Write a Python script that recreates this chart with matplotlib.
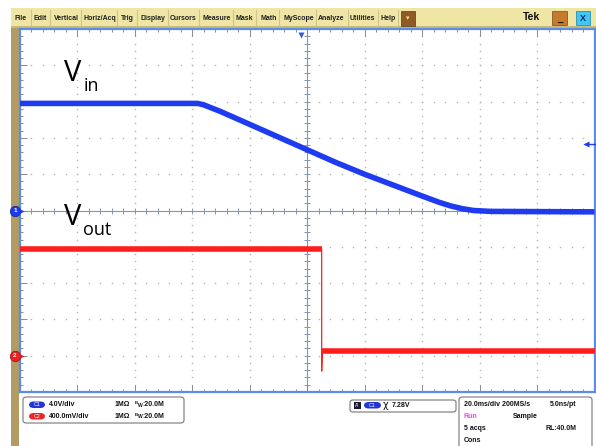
import matplotlib
matplotlib.use('Agg')
import matplotlib.pyplot as plt
from matplotlib.patches import Rectangle, FancyBboxPatch
from matplotlib.ticker import MultipleLocator
from matplotlib.transforms import blended_transform_factory

# ---------------- data ----------------
time_per_div_ms = 20.0
ch1_volts_per_div = 4.0
ch2_volts_per_div = 0.4
ch1_offset_div = 0
ch2_offset_div = -4
trigger_level_v = 7.28
trigger_pos_ms = -2.0

vin_time_ms = [-100, -38, -36, -30, -20, -10, 0, 10, 20, 30, 40, 46, 50, 54, 58, 64, 100]
vin_volts = [11.8, 11.8, 11.65, 10.9, 9.5, 8.1, 6.7, 5.3, 4.0, 2.8, 1.6, 0.9, 0.5, 0.2, 0.0, -0.1, -0.15]

vout_time_ms = [-100, 5.1, 5.1, 5.3, 100]
vout_volts = [1.18, 1.18, -0.17, 0.05, 0.05]

menu_items = ["File", "Edit", "Vertical", "Horiz/Acq", "Trig", "Display", "Cursors",
              "Measure", "Mask", "Math", "MyScope", "Analyze", "Utilities", "Help"]
menu_centers_px = [21, 40.5, 66, 100, 127.5, 153, 183.5, 216.5, 244, 269, 298.5, 331.5, 362, 388]
menu_seps_px = [31, 50, 81, 117, 137, 168, 199, 233, 256, 279, 316, 348, 378, 398]

# ---------------- figure ----------------
W, H = 596, 446
fig = plt.figure(figsize=(W / 100, H / 100), dpi=100)
fig.patch.set_facecolor('white')
plt.rcParams['font.family'] = ['Liberation Sans', 'DejaVu Sans']

def fx(x):
    return x / W

def fy(y):
    return 1 - y / H

def rect_px(x0, y0, x1, y1, **kw):
    r = Rectangle((fx(x0), fy(y1)), (x1 - x0) / W, (y1 - y0) / H,
                  transform=fig.transFigure, **kw)
    fig.add_artist(r)
    return r

def rbox_px(x0, y0, x1, y1, pad=0.004, **kw):
    r = FancyBboxPatch((fx(x0), fy(y1)), (x1 - x0) / W, (y1 - y0) / H,
                       boxstyle="round,pad=0,rounding_size=%f" % pad,
                       transform=fig.transFigure, **kw)
    fig.add_artist(r)
    return r

# menu bar
rect_px(11, 8, 596, 27.5, facecolor='#EFE6A6', edgecolor='none', zorder=-2)
rect_px(11, 26.5, 596, 28.5, facecolor='#C9B97A', edgecolor='none', zorder=-2)
for sx in menu_seps_px:
    fig.add_artist(plt.Line2D([fx(sx), fx(sx)], [fy(10), fy(25)], color='#CFC48A',
                              lw=0.8, transform=fig.transFigure, zorder=2))
for name, cx in zip(menu_items, menu_centers_px):
    fig.text(fx(cx), fy(18), name, ha='center', va='center', fontsize=5.0,
             color='#202020', fontweight='bold', zorder=3)
# dropdown button
rect_px(401, 11, 415, 26, facecolor='#8E5A26', edgecolor='#5a3a18', lw=0.5, zorder=3)
fig.text(fx(408), fy(18.5), u"\u25BE", ha='center', va='center', fontsize=5,
         color='#F6E27A', zorder=4, family='DejaVu Sans')
fig.text(fx(531.5), fy(17.5), "Tek", ha='center', va='center', fontsize=7.5,
         color='#111111', fontweight='bold', zorder=3)
rect_px(552, 11, 567, 25, facecolor='#C57A2C', edgecolor='#7a4a18', lw=0.5, zorder=3)
fig.text(fx(559.5), fy(19.5), "_", ha='center', va='center', fontsize=7,
         color='#111111', fontweight='bold', zorder=4)
rect_px(576, 11, 590, 25, facecolor='#3CC8F2', edgecolor='#1a7fa8', lw=0.5, zorder=3)
fig.text(fx(583), fy(18.5), "X", ha='center', va='center', fontsize=6.5,
         color='#0b2a78', fontweight='bold', zorder=4)

# left brown strip (behind the axes so channel markers show on top)
rect_px(11, 28, 19, 446, facecolor='#B29C62', edgecolor='none', zorder=-2)

# ---------------- graticule / scope axes ----------------
ax1 = fig.add_axes([fx(19.5), fy(392), 575 / W, 363 / H])
ax1.set_facecolor('white')
ax1.set_xlim(-5 * time_per_div_ms, 5 * time_per_div_ms)
ax1.set_ylim((-5 - ch1_offset_div) * ch1_volts_per_div, (5 - ch1_offset_div) * ch1_volts_per_div)

ax1.xaxis.set_major_locator(MultipleLocator(time_per_div_ms))
ax1.xaxis.set_minor_locator(MultipleLocator(time_per_div_ms / 5))
ax1.yaxis.set_major_locator(MultipleLocator(ch1_volts_per_div))
ax1.yaxis.set_minor_locator(MultipleLocator(ch1_volts_per_div / 5))
ax1.tick_params(which='both', direction='in', top=True, right=True, left=True, bottom=True,
                labelleft=False, labelbottom=False, color='#8c8c8c', width=0.7)
ax1.tick_params(which='major', length=5)
ax1.tick_params(which='minor', length=2.5)
for sp in ax1.spines.values():
    sp.set_color('#5B8CE8')
    sp.set_linewidth(1.6)

# dotted grid
xmaj = [time_per_div_ms * k for k in range(-4, 5) if k != 0]
ymaj = [ch1_volts_per_div * k for k in range(-4, 5) if k != 0]
xmin_all = [time_per_div_ms / 5 * k for k in range(-25, 26)]
ymin_all = [ch1_volts_per_div / 5 * k for k in range(-25, 26)]
gx, gy = [], []
for xv in xmaj:
    for yv in ymin_all:
        gx.append(xv); gy.append(yv)
for yv in ymaj:
    for xv in xmin_all:
        gx.append(xv); gy.append(yv)
ax1.plot(gx, gy, ls='none', marker='s', ms=1.0, color='#b4b4b4', mec='none', zorder=1)

# center crosshair with ticks
ax1.axhline(0, color='#8792b2', lw=0.8, zorder=1.5)
ax1.axvline(0, color='#8792b2', lw=0.8, zorder=1.5)
ax1.plot(xmin_all, [0] * len(xmin_all), ls='none', marker='|', ms=4, mew=0.7,
         color='#8792b2', zorder=1.5)
ax1.plot([0] * len(ymin_all), ymin_all, ls='none', marker='_', ms=4, mew=0.7,
         color='#8792b2', zorder=1.5)

# Ch1 trace (Vin)
blue = '#1F3BF2'
ax1.plot(vin_time_ms, vin_volts, color=blue, lw=4.0, solid_joinstyle='round',
         solid_capstyle='butt', zorder=3)

# Ch2 trace (Vout)
ax2 = ax1.twinx()
ax2.set_ylim((-5 - ch2_offset_div) * ch2_volts_per_div, (5 - ch2_offset_div) * ch2_volts_per_div)
ax2.tick_params(right=False, labelright=False)
for sp in ax2.spines.values():
    sp.set_visible(False)
red = '#FF1E1E'
ax2.plot(vout_time_ms, vout_volts, color=red, lw=0.9, zorder=3)
ax2.plot(vout_time_ms[0:2], vout_volts[0:2], color=red, lw=4.0, solid_capstyle='butt', zorder=3)
ax2.plot(vout_time_ms[3:5], vout_volts[3:5], color=red, lw=4.0, solid_capstyle='butt', zorder=3)

# trigger level marker (right edge)
xr = ax1.get_xlim()[1]
ax1.plot([xr - 3.3, xr], [trigger_level_v, trigger_level_v], color=blue, lw=1.0,
         clip_on=False, zorder=5)
ax1.plot([xr - 3.0], [trigger_level_v], marker='<', ms=4, color=blue, mec='none',
         clip_on=False, zorder=5)
# trigger position marker (top)
ax1.plot([trigger_pos_ms], [ax1.get_ylim()[1] - 0.7], marker='v', ms=5, color='#2F5BE0',
         mec='none', clip_on=False, zorder=5)

# channel ground markers
tr1 = blended_transform_factory(fig.transFigure, ax1.transData)
tr2 = blended_transform_factory(fig.transFigure, ax2.transData)
ax1.plot([fx(15)], [0], marker='o', ms=7.5, color='#1F3BF2', mec='#0a1f9a', mew=0.5,
         transform=tr1, clip_on=False, zorder=6)
ax1.text(fx(15), 0, "1", transform=tr1, ha='center', va='center', fontsize=4.5,
         color='white', fontweight='bold', zorder=7, clip_on=False)
ax1.plot([fx(22)], [0], marker='>', ms=3, color='#1F3BF2', mec='none',
         transform=tr1, clip_on=False, zorder=6)
ax2.plot([fx(15)], [0], marker='o', ms=7.5, color='#EE2222', mec='#9a0a0a', mew=0.5,
         transform=tr2, clip_on=False, zorder=6)
ax2.text(fx(15), 0, "2", transform=tr2, ha='center', va='center', fontsize=4.5,
         color='white', fontweight='bold', zorder=7, clip_on=False)
ax2.plot([fx(22)], [0], marker='>', ms=3, color='#EE2222', mec='none',
         transform=tr2, clip_on=False, zorder=6)

# annotations Vin / Vout
fig.text(fx(64), fy(81), "V", fontsize=21, family='Open Sans', color='black', va='baseline', zorder=8)
fig.text(fx(84), fy(91), "in", fontsize=13, family='Open Sans', color='black', va='baseline', zorder=8)
fig.text(fx(64), fy(225), "V", fontsize=21, family='Open Sans', color='black', va='baseline', zorder=8)
fig.text(fx(82.5), fy(235), "out", fontsize=13, family='Open Sans', color='black', va='baseline', zorder=8)

# ---------------- bottom readouts ----------------
fs = 5.0
rbox_px(23, 397, 184, 423, pad=0.006, facecolor='white', edgecolor='#777777', lw=0.8, zorder=2)
rbox_px(29, 401.5, 45, 408, pad=0.008, facecolor='#2236D8', edgecolor='none', zorder=3)
fig.text(fx(37), fy(404.8), "C1", ha='center', va='center', fontsize=3.8, color='white', zorder=4)
rbox_px(29, 413, 45, 419.5, pad=0.008, facecolor='#E82828', edgecolor='none', zorder=3)
fig.text(fx(37), fy(416.3), "C2", ha='center', va='center', fontsize=3.8, color='white', zorder=4)
fig.text(fx(49), fy(404.5), "4.0V/div", va='center', fontsize=fs, fontweight='bold', color='#111', zorder=4)
fig.text(fx(49), fy(416), "400.0mV/div", va='center', fontsize=fs, fontweight='bold', color='#111', zorder=4)
for yy in (404.5, 416):
    fig.text(fx(115), fy(yy), u"1M\u03A9", va='center', fontsize=fs, fontweight='bold', color='#111', zorder=4)
    fig.text(fx(134.5), fy(yy - 1.5), "B", va='center', fontsize=3.2, fontweight='bold', color='#111', zorder=4)
    fig.text(fx(137.5), fy(yy + 0.8), "W", va='center', fontsize=3.6, fontweight='bold', color='#111', zorder=4)
    fig.text(fx(142.5), fy(yy), ":20.0M", va='center', fontsize=fs, fontweight='bold', color='#111', zorder=4)

rbox_px(350, 400, 456, 412, pad=0.005, facecolor='white', edgecolor='#777777', lw=0.8, zorder=2)
rect_px(354, 401.5, 361, 409, facecolor='#1a1a2a', edgecolor='none', zorder=3)
fig.text(fx(357.5), fy(405.3), "A'", ha='center', va='center', fontsize=3.5, color='white', zorder=4)
rbox_px(364, 402, 381, 408.5, pad=0.008, facecolor='#2236D8', edgecolor='none', zorder=3)
fig.text(fx(372.5), fy(405.3), "C1", ha='center', va='center', fontsize=3.8, color='white', zorder=4)
fig.text(fx(383), fy(405.5), u"\u03C7", va='center', fontsize=7, color='#111', zorder=4, family='DejaVu Sans')
fig.text(fx(391.5), fy(405.5), "7.28V", va='center', fontsize=fs, fontweight='bold', color='#111', zorder=4)

rbox_px(459, 397, 592, 452, pad=0.006, facecolor='white', edgecolor='#777777', lw=0.8, zorder=2)
fig.text(fx(464), fy(404.5), "20.0ms/div 200MS/s", va='center', fontsize=fs, fontweight='bold', color='#111', zorder=4)
fig.text(fx(550), fy(404.5), "5.0ns/pt", va='center', fontsize=fs, fontweight='bold', color='#111', zorder=4)
fig.text(fx(464), fy(416.5), "Run", va='center', fontsize=fs, fontweight='bold', color='#F040F0', zorder=4)
fig.text(fx(513), fy(416.5), "Sample", va='center', fontsize=fs, fontweight='bold', color='#111', zorder=4)
fig.text(fx(464), fy(428.5), "5 acqs", va='center', fontsize=fs, fontweight='bold', color='#111', zorder=4)
fig.text(fx(545), fy(428.5), "RL:40.0M", va='center', fontsize=fs, fontweight='bold', color='#111', zorder=4)
fig.text(fx(464), fy(440.5), "Cons", va='center', fontsize=fs, fontweight='bold', color='#111', zorder=4)

fig.savefig('out.png', dpi=100, facecolor='white')
